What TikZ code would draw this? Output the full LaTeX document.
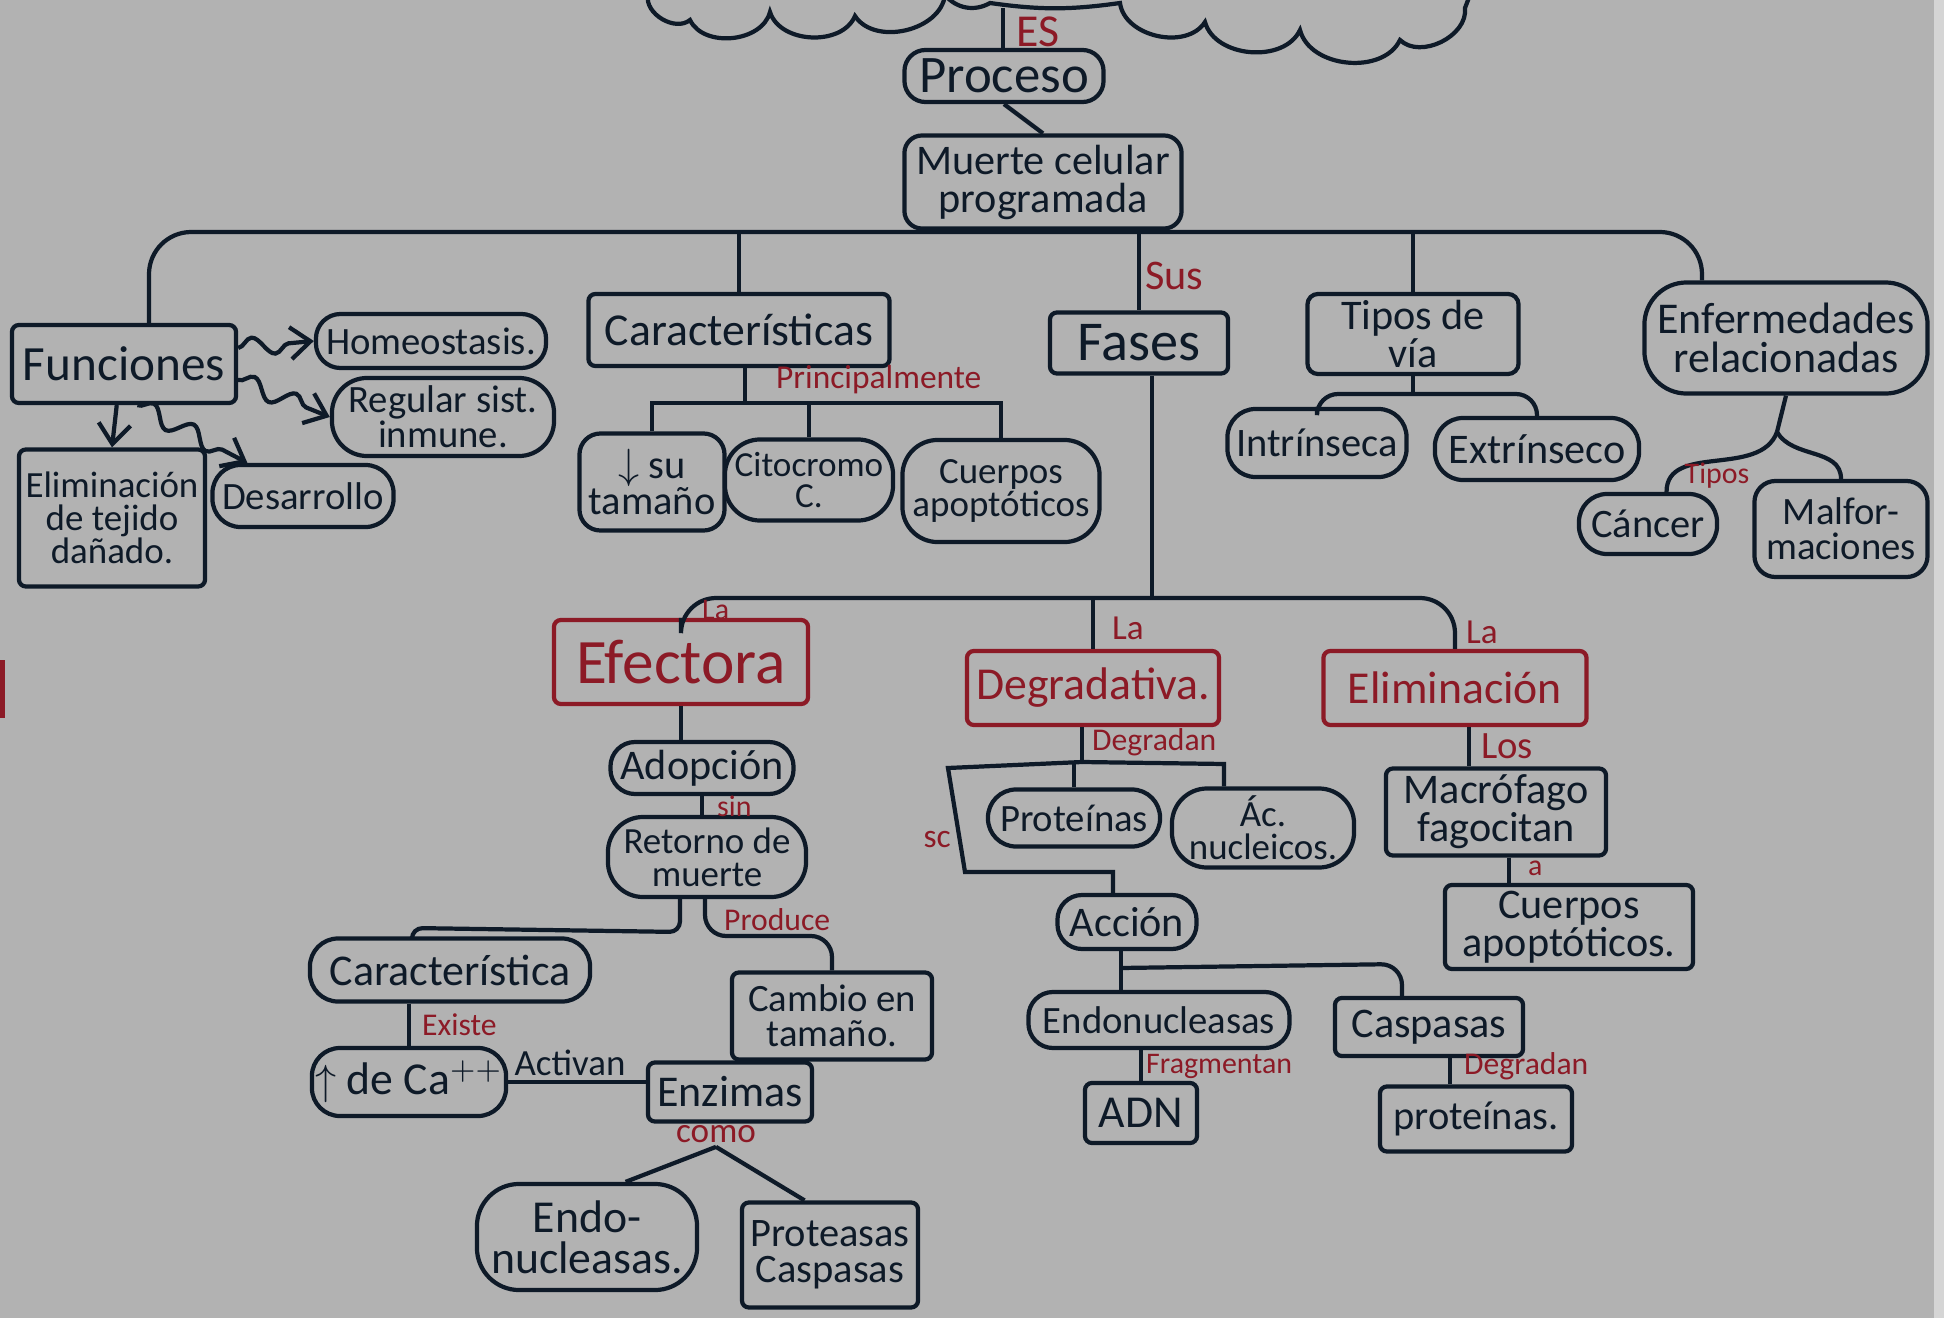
\documentclass[tikz,border=0pt]{standalone}
\usepackage{fontspec}
\setmainfont{Carlito}
\usepackage{amsmath}
\usepackage{tikz}
\usetikzlibrary{calc, arrows.meta, decorations.pathmorphing}

\definecolor{fondo}{HTML}{B2B2B2}
\definecolor{tinta}{HTML}{0E1A28}
\definecolor{rojo}{HTML}{8C1A26}
\newcommand{\tam}[1]{\fontsize{#1}{\the\dimexpr #1pt*9/10\relax}\selectfont}

\tikzset{
  caja/.style={draw=tinta, text=tinta, line width=1.2pt, rounded corners=2pt, inner sep=1pt, align=center},
  redondo/.style={caja, rounded corners=#1},
  redondo/.default=8pt,
  cajaroja/.style={caja, draw=rojo, text=rojo},
  etiq/.style={text=rojo, inner sep=1pt},
  linea/.style={draw=tinta, line width=1.2pt},
  flecha/.style={linea, -{Straight Barb[length=2mm,width=3.2mm]}, decorate,
    decoration={snake, amplitude=0.9mm, segment length=4.5mm, post length=2mm}}
}

\begin{document}
\begin{tikzpicture}[x=0.01cm, y=-0.01cm]
    %fondo y margenes
    \useasboundingbox (0,0) rectangle (1944,1318);
    \fill[fondo] (0,0) rectangle (1944,1318);
    \fill[fondo!55!white] (1934,0) rectangle (1944,1318);
    \fill[rojo] (0,660) rectangle (5,718);
    %nube de arriba
    \draw[linea] (648,-5) to[bend right=70] (690,20) to[bend right=70] (770,12)
      to[bend right=70] (855,16) to[bend right=70] (945,-5)
      to[bend right=40] (990,3) to[bend right=8] (1120,3)
      to[bend right=70] (1205,22) to[bend right=70] (1300,30)
      to[bend right=70] (1400,40) to[bend right=70] (1465,8) -- (1470,-5);
    \coordinate (nube) at (1003,8);

    %parte central
    \node[redondo=6pt, minimum width=1.99cm, minimum height=0.52cm, font=\tam{15}] (proceso) at (1004,76) {Proceso};
    \node[redondo=5pt, minimum width=2.77cm, minimum height=0.93cm, font=\tam{12}] (muerte) at (1043,182) {Muerte celular\\programada};
    \draw[linea] (nube) -- (nube |- proceso.north);
    \node[etiq, font=\tam{13}, anchor=west] (es) at (1012,32) {ES};
    \draw[linea] (proceso.south) -- (muerte.north);

    %ramas principales
    \node[caja, minimum width=2.24cm, minimum height=0.78cm, font=\tam{14}] (funciones) at (124,364) {Funciones};
    \node[caja, minimum width=3.01cm, minimum height=0.72cm, font=\tam{13}] (caract) at (739,330) {Características};
    \node[caja, minimum width=1.78cm, minimum height=0.61cm, font=\tam{16}] (fases) at (1139,343) {Fases};
    \node[redondo=3pt, minimum width=2.11cm, minimum height=0.80cm, font=\tam{12}] (tipos) at (1413,334) {Tipos de\\vía};
    \node[redondo=12pt, minimum width=2.83cm, minimum height=1.11cm, font=\tam{12.5}] (enferm) at (1786,338) {Enfermedades\\relacionadas};
    \coordinate (barra) at (1043,232);
    \coordinate (bizq) at (149,232);
    \coordinate (bder) at (1702,232);
    \draw[linea, rounded corners=12pt] (funciones.north -| bizq) -- (bizq) -- (bder) -- (enferm.north -| bder);
    \draw[linea] (muerte.south) -- (barra);
    \draw[linea] (caract.north |- barra) -- (caract.north);
    \draw[linea] (fases.north |- barra) -- (fases.north);
    \draw[linea] (tipos.north |- barra) -- (tipos.north);
    \node[etiq, font=\tam{12}, anchor=west] at (1141,276) {Sus};

    %funciones
    \node[redondo=7pt, minimum width=2.30cm, minimum height=0.54cm, font=\tam{11}] (homeo) at (431,341) {Homeostasis.};
    \node[redondo=10pt, minimum width=2.22cm, minimum height=0.78cm, font=\tam{11}] (regular) at (443,417) {Regular sist.\\inmune.};
    \node[caja, minimum width=1.86cm, minimum height=1.37cm, font=\tam{10.5}] (elimtej) at (112,518) {Eliminación\\de tejido\\dañado.};
    \node[redondo=8pt, minimum width=1.81cm, minimum height=0.62cm, font=\tam{11}] (desarrollo) at (303,496) {Desarrollo};
    \draw[flecha] (funciones.8) -- (homeo.west);
    \draw[flecha] (funciones.-8) -- (regular.west);
    \draw[flecha] (funciones.-100) -- (elimtej.north);
    \draw[flecha] (funciones.-72) -- ($(desarrollo.north)!.6!(desarrollo.north west)$);

    %caracteristicas
    \node[redondo=6pt, minimum width=1.45cm, minimum height=0.97cm, font=\tam{11.5}] (sutam) at (652,482) {$\downarrow$ su\\tamaño};
    \node[redondo=10pt, minimum width=1.68cm, minimum height=0.81cm, font=\tam{10}] (citoc) at (809,480) {Citocromo\\C.};
    \node[redondo=10pt, minimum width=1.97cm, minimum height=1.02cm, font=\tam{10.5}] (cuerpos1) at (1001,491) {Cuerpos\\apoptóticos};
    \coordinate (b3) at (745,403);
    \draw[linea] (caract.south -| b3) -- (b3);
    \draw[linea] (sutam.north) |- (b3) -| (cuerpos1.north);
    \draw[linea] (citoc.north |- b3) -- (citoc.north);
    \node[etiq, font=\tam{9.5}, anchor=south west] at (772,398) {Principalmente};

    %tipos de via
    \node[redondo=8pt, minimum width=1.79cm, minimum height=0.68cm, font=\tam{11.5}] (intrin) at (1317,443) {Intrínseca};
    \node[redondo=8pt, minimum width=2.04cm, minimum height=0.62cm, font=\tam{12}] (extrin) at (1537,449) {Extrínseco};
    \coordinate (b4) at (1413,394);
    \draw[linea] (tipos.south) -- (b4);
    \draw[linea, rounded corners=6pt] (intrin.north) |- (b4) -| (extrin.north);

    %enfermedades
    \node[redondo=8pt, minimum width=1.38cm, minimum height=0.60cm, font=\tam{11.5}] (cancer) at (1648,524) {Cáncer};
    \node[redondo=6pt, minimum width=1.73cm, minimum height=0.96cm, font=\tam{11}] (malf) at (1841,529) {Malfor-\\maciones};
    \coordinate (b5) at (1777,432);
    \draw[linea] (enferm.south) -- (b5);
    \draw[linea] (b5) to[out=-110, in=90] (cancer.60);
    \draw[linea] (b5) to[out=-60, in=90] (malf.north);
    \node[etiq, font=\tam{8.5}] at (1717,476) {Tipos};

    %fases
    \node[cajaroja, minimum width=2.54cm, minimum height=0.84cm, font=\tam{18}] (efectora) at (681,662) {Efectora};
    \node[cajaroja, minimum width=2.52cm, minimum height=0.74cm, font=\tam{13}] (degrad) at (1093,688) {Degradativa.};
    \node[cajaroja, minimum width=2.63cm, minimum height=0.74cm, font=\tam{13}] (elimin) at (1455,688) {Eliminación};
    \coordinate (barra2) at (1152,598);
    \draw[linea] (fases.south -| barra2) -- (barra2);
    \draw[linea, rounded corners=10pt] (efectora.north) |- (barra2) -| (elimin.north);
    \draw[linea] (degrad.north |- barra2) -- (degrad.north);
    \node[etiq, font=\tam{8.5}, anchor=west] at (698,610) {La};
    \node[etiq, font=\tam{10}, anchor=west] at (1108,628) {La};
    \node[etiq, font=\tam{10}, anchor=west] at (1462,632) {La};

    %efectora
    \node[redondo=7pt, minimum width=1.83cm, minimum height=0.52cm, font=\tam{12}] (adopcion) at (702,768) {Adopción};
    \node[redondo=10pt, minimum width=1.98cm, minimum height=0.80cm, font=\tam{10.5}] (retorno) at (707,857) {Retorno de\\muerte};
    \node[redondo=8pt, minimum width=2.80cm, minimum height=0.63cm, font=\tam{12.5}] (caracteristica) at (450,970) {Característica};
    \node[redondo=8pt, minimum width=1.94cm, minimum height=0.68cm, font=\tam{13}] (calcio) at (409,1082) {$\uparrow$ de Ca$^{++}$};
    \node[caja, minimum width=1.64cm, minimum height=0.59cm, font=\tam{12.5}] (enzimas) at (730,1092) {Enzimas};
    \node[redondo=12pt, minimum width=2.20cm, minimum height=1.06cm, font=\tam{13}] (endonuc1) at (587,1237) {Endo-\\nucleasas.};
    \node[caja, minimum width=1.76cm, minimum height=1.05cm, font=\tam{11.5}] (proteasas) at (830,1255) {Proteasas\\Caspasas};
    \node[caja, minimum width=2.00cm, minimum height=0.87cm, font=\tam{11}] (cambio) at (832,1016) {Cambio en\\tamaño.};
    \draw[linea] (efectora.south) -- (efectora.south |- adopcion.north);
    \draw[linea] (adopcion.south) -- (adopcion.south |- retorno.north);
    \node[etiq, font=\tam{8.5}, anchor=west] at (713,806) {sin};
    \coordinate (r1) at (680,932);
    \coordinate (r2) at (412,928);
    \draw[linea, rounded corners=3pt] (retorno.south -| r1) -- (r1) -- (r2) -- (caracteristica.north -| r2);
    \coordinate (r3) at (705,936);
    \draw[linea, rounded corners=6pt] (retorno.south -| r3) |- (cambio.north |- r3) -- (cambio.north);
    \node[etiq, font=\tam{9}, anchor=west] at (720,920) {Produce};
    \draw[linea] (caracteristica.south -| calcio.north) -- (calcio.north);
    \node[etiq, font=\tam{9}, anchor=west] at (418,1025) {Existe};
    \draw[linea] (calcio.east) -- (calcio.east -| enzimas.west);
    \node[text=tinta, inner sep=1pt, font=\tam{10.5}, anchor=south] at (570,1080) {Activan};
    \node[etiq, font=\tam{10}] (como) at (716,1134) {como};
    \draw[linea] (como.south) -- (endonuc1.55);
    \draw[linea] (como.south) -- (proteasas.115);

    %degradativa
    \node[redondo=8pt, minimum width=1.72cm, minimum height=0.57cm, font=\tam{11}] (proteinas) at (1074,818) {Proteínas};
    \node[redondo=10pt, minimum width=1.82cm, minimum height=0.79cm, font=\tam{10.5}] (acnuc) at (1263,828) {Ác.\\nucleicos.};
    \node[redondo=7pt, minimum width=1.39cm, minimum height=0.54cm, font=\tam{12}] (accion) at (1127,922) {Acción};
    \node[redondo=7pt, minimum width=2.61cm, minimum height=0.56cm, font=\tam{11}] (endonuc2) at (1159,1020) {Endonucleasas};
    \node[caja, minimum width=1.12cm, minimum height=0.60cm, font=\tam{13}] (adn) at (1141,1113) {ADN};
    \node[caja, minimum width=1.88cm, minimum height=0.58cm, font=\tam{12}] (caspasas) at (1429,1027) {Caspasas};
    \node[caja, minimum width=1.92cm, minimum height=0.65cm, font=\tam{11.5}] (proteinas2) at (1476,1119) {proteínas.};
    \coordinate (d1) at (1082,762);
    \coordinate (d2) at (1224,764);
    \draw[linea] (degrad.south -| d1) -- (d1);
    \draw[linea] (d1) -- (d2) -- (acnuc.north -| d2);
    \draw[linea] (proteinas.north |- d1) -- (proteinas.north);
    \coordinate (d3) at (948,768);
    \coordinate (d4) at (965,872);
    \coordinate (d5) at (1113,872);
    \draw[linea] (d1) -- (d3) -- (d4) -- (d5) -- (accion.north -| d5);
    \node[etiq, font=\tam{9.5}, anchor=east] at (955,840) {sc};
    \node[etiq, font=\tam{9}, anchor=west] at (1088,742) {Degradan};
    \coordinate (a1) at (1121,968);
    \coordinate (a2) at (1402,964);
    \draw[linea] (accion.south -| a1) -- (endonuc2.north -| a1);
    \draw[linea, rounded corners=6pt] (a1) -- (a2) -- (caspasas.north -| a2);
    \draw[linea] (endonuc2.south -| adn.north) -- (adn.north);
    \node[etiq, font=\tam{8.5}, anchor=west] at (1142,1066) {Fragmentan};
    \coordinate (c1) at (1450,1070);
    \draw[linea] (caspasas.south -| c1) -- (proteinas2.north -| c1);
    \node[etiq, font=\tam{9}, anchor=west] at (1460,1066) {Degradan};

    %eliminacion
    \node[caja, minimum width=2.20cm, minimum height=0.87cm, font=\tam{12}] (macrof) at (1496,812) {Macrófago\\fagocitan};
    \node[caja, minimum width=2.48cm, minimum height=0.84cm, font=\tam{12}] (cuerpos2) at (1569,927) {Cuerpos\\apoptóticos.};
    \coordinate (e1) at (1469,745);
    \draw[linea] (elimin.south -| e1) -- (macrof.north -| e1);
    \node[etiq, font=\tam{11}, anchor=west] at (1477,746) {Los};
    \coordinate (e2) at (1509,870);
    \draw[linea] (macrof.south -| e2) -- (cuerpos2.north -| e2);
    \node[etiq, font=\tam{8.5}, anchor=west] at (1524,868) {a};
  \end{tikzpicture}
\end{document}
